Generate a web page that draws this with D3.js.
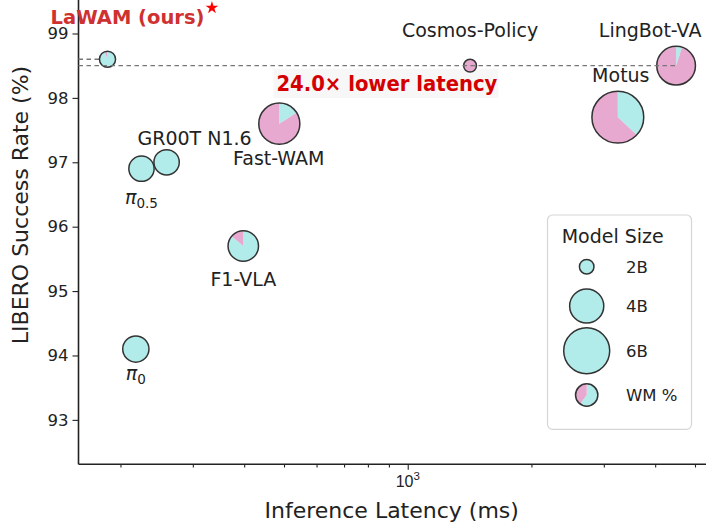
<!DOCTYPE html>
<html>
<head>
<meta charset="utf-8">
<script src="https://cdn.jsdelivr.net/npm/d3@7"></script>
<style>
  html, body { margin: 0; padding: 0; background: #fff; }
  svg { display: block; font-family: "DejaVu Sans", sans-serif; }
</style>
</head>
<body>
<svg id="chart" width="718" height="532"></svg>
<script>
// ---------------- data ----------------
const models      = ["LaWAM (ours)", "Cosmos-Policy", "LingBot-VA", "Motus", "Fast-WAM", "GR00T N1.6", "π0.5", "F1-VLA", "π0"];
const latencyMs   = [186, 1418, 4498, 3245, 487, 259, 225, 398, 218];
const successRate = [98.6, 98.5, 98.5, 97.7, 97.6, 97.0, 96.9, 95.7, 94.1];
const modelSizeB  = [2.1, 1.9, 4.7, 7.2, 5.1, 2.9, 2.9, 3.5, 3.0];
const wmPercent   = [6, 100, 95, 63, 84, 0, 0, 14, 0];

const legendSizes  = [2, 4, 6];
const legendLabels = ["2B", "4B", "6B"];
const legendWmSize = 2.6;
const legendWmPct  = 40;

const yTicks       = [93, 94, 95, 96, 97, 98, 99];
const xMajorTicks  = [1000];
const xMinorTicks  = [200, 300, 400, 500, 600, 700, 800, 900, 2000, 3000, 4000, 5000];

const refLevel     = 98.5;      // dashed reference level (baselines)
const oursLevel    = 98.6;      // LaWAM level
const speedupText  = "24.0× lower latency";
const speedupAnchor = { latency: 890, success: 98.1 };

// ---------------- layout ----------------
const plot = { left: 78.5, right: 706, top: 0, bottom: 464.3 };
const labelLayout = {
  "LaWAM (ours)":  { dx: 20,  dy: -35.5 },
  "Cosmos-Policy": { dx: 0,   dy: -28.5 },
  "LingBot-VA":    { dx: -26, dy: -28.5 },
  "Motus":         { dx: 3,   dy: -35.5 },
  "Fast-WAM":      { dx: -0.5,dy: 41.5 },
  "GR00T N1.6":    { dx: 28,  dy: -17.5 },
  "π0.5":          { dx: 0,   dy: 35 },
  "F1-VLA":        { dx: 0,   dy: 40 },
  "π0":            { dx: 0,   dy: 31 }
};
const cyan = "#b2ecea", pink = "#e7a9cf", edge = "#333333", ink = "#222222";

const svg = d3.select("#chart");

const x = d3.scaleLog().domain([158.1, 5318]).range([plot.left, plot.right]);
const y = d3.scaleLinear().domain([92.31, 99.52]).range([plot.bottom, plot.top]);
// marker area (px^2) grows linearly with model size
const area = d3.scaleLinear().domain([2, 6]).range([53, 529]);
const rad = s => Math.sqrt(Math.max(area(s), 4));

const pts = models.map((m, i) => ({
  name: m, lat: latencyMs[i], sr: successRate[i], size: modelSizeB[i], wm: wmPercent[i]
}));

// ---------------- axes ----------------
const gx = svg.append("g").attr("transform", `translate(0,${plot.bottom})`);
gx.call(d3.axisBottom(x).tickValues(xMinorTicks).tickSize(3.2).tickFormat(""));
gx.append("g").call(d3.axisBottom(x).tickValues(xMajorTicks).tickSize(5.5).tickPadding(5.5)
  .tickFormat(() => ""));
gx.selectAll("path.domain").remove();
gx.selectAll("line").attr("stroke", ink).attr("stroke-width", 1.1);
gx.append("line").attr("x1", plot.left).attr("x2", plot.right).attr("y1", 0).attr("y2", 0)
  .attr("stroke", ink).attr("stroke-width", 1.6);
xMajorTicks.forEach(v => {
  const exp = Math.round(Math.log10(v));
  const t = gx.append("text").attr("x", x(v)).attr("y", 22.4).attr("text-anchor", "middle")
    .attr("font-size", 16).attr("fill", ink);
  t.append("tspan").text("10");
  t.append("tspan").attr("font-size", 11.5).attr("dy", -6.5).text(String(exp));
});

const gy = svg.append("g").attr("transform", `translate(${plot.left},0)`);
gy.call(d3.axisLeft(y).tickValues(yTicks).tickSize(6).tickPadding(4).tickFormat(d3.format("d")));
gy.selectAll("path.domain").remove();
gy.selectAll("line").attr("stroke", ink).attr("stroke-width", 1.1);
gy.selectAll("text").attr("font-size", 16.5).attr("fill", ink).attr("font-family", "DejaVu Sans");
gy.append("line").attr("x1", 0).attr("x2", 0).attr("y1", plot.top).attr("y2", plot.bottom)
  .attr("stroke", ink).attr("stroke-width", 1.6);

svg.append("text").attr("x", 391.7).attr("y", 518).attr("text-anchor", "middle")
  .attr("font-size", 22).attr("fill", ink).text("Inference Latency (ms)");
svg.append("text").attr("transform", "translate(28.3,205) rotate(-90)").attr("text-anchor", "middle")
  .attr("font-size", 22).attr("fill", ink).text("LIBERO Success Rate (%)");

// ---------------- short dashed line to LaWAM ----------------
const ours = pts[0];
svg.append("line").attr("x1", plot.left).attr("x2", x(ours.lat))
  .attr("y1", y(oursLevel)).attr("y2", y(oursLevel))
  .attr("stroke", "#777").attr("stroke-width", 1.3).attr("stroke-dasharray", "4.5,3.5");

// ---------------- annotation box ----------------
const ax = x(speedupAnchor.latency), ay = y(speedupAnchor.success);
svg.append("rect").attr("x", ax - 113.5).attr("y", ay - 22.5).attr("width", 225).attr("height", 29)
  .attr("fill", "#f6f6f6").attr("opacity", 0.9);
svg.append("text").attr("x", ax).attr("y", ay).attr("text-anchor", "middle")
  .attr("font-family", "'DejaVu Sans',sans-serif")
  .attr("font-weight", "bold").attr("font-size", 20.5).attr("fill", "#d40000")
  .attr("textLength", 221).attr("lengthAdjust", "spacingAndGlyphs")
  .text(speedupText);

// ---------------- pie markers ----------------
const pie = d3.pie().sort(null).value(d => d);
function drawPie(g, cx, cy, r, wm) {
  const gg = g.append("g").attr("transform", `translate(${cx},${cy})`);
  const arc = d3.arc().innerRadius(0).outerRadius(r);
  gg.selectAll("path").data(pie([100 - wm, wm])).join("path")
    .attr("d", arc).attr("fill", (d, i) => i === 0 ? cyan : pink);
  gg.append("circle").attr("r", r).attr("fill", "none").attr("stroke", edge).attr("stroke-width", 1.5);
}
const gm = svg.append("g");
pts.forEach(p => drawPie(gm, x(p.lat), y(p.sr), rad(p.size), p.wm));

// ---------------- long dashed reference line ----------------
const refEnd = pts[2];
svg.append("line").attr("x1", plot.left).attr("x2", x(refEnd.lat))
  .attr("y1", y(refLevel)).attr("y2", y(refLevel))
  .attr("stroke", "#777").attr("stroke-width", 1.3).attr("stroke-dasharray", "4.5,3.5");

// ---------------- labels ----------------
pts.forEach(p => {
  const o = labelLayout[p.name];
  const lx = x(p.lat) + o.dx, ly = y(p.sr) + o.dy;
  if (p.name === models[0]) {
    const t = svg.append("text").attr("x", lx).attr("y", ly).attr("text-anchor", "middle")
      .attr("font-size", 19.5).attr("font-weight", "bold").attr("fill", "#cf3030").text(p.name);
    const bb = t.node().getBBox();
    svg.append("path").attr("d", d3.symbol(d3.symbolStar, 50)())
      .attr("transform", `translate(${bb.x + bb.width + 7.5},${ly - 16})`).attr("fill", "#ff0000");
    return;
  }
  const t = svg.append("text").attr("x", lx).attr("y", ly).attr("text-anchor", "middle")
    .attr("font-size", 19).attr("fill", ink);
  if (p.name.startsWith("π")) {
    t.append("tspan").attr("font-style", "italic").text("π");
    t.append("tspan").attr("font-size", 13.5).attr("dy", 4).text(p.name.slice(1));
  } else {
    t.text(p.name);
  }
});

// ---------------- legend ----------------
const lg = svg.append("g");
lg.append("rect").attr("x", 547.5).attr("y", 215).attr("width", 144).attr("height", 214.3)
  .attr("rx", 5).attr("fill", "#fff").attr("fill-opacity", 0.85)
  .attr("stroke", "#d6d6d6").attr("stroke-width", 1.2);
lg.append("text").attr("x", 561.7).attr("y", 243.3).attr("font-size", 19).attr("fill", ink).text("Model Size");
const rowY = [266.7, 306, 350.7];
legendSizes.forEach((s, i) => {
  drawPie(lg, 586.7, rowY[i], rad(s), 0);
  lg.append("text").attr("x", 626).attr("y", rowY[i] + 5.9).attr("font-size", 16.5).attr("fill", ink)
    .text(legendLabels[i]);
});
drawPie(lg, 586.7, 395, rad(legendWmSize), legendWmPct);
lg.append("text").attr("x", 626).attr("y", 400.9).attr("font-size", 16.5).attr("fill", ink).text("WM %");
</script>
</body>
</html>
